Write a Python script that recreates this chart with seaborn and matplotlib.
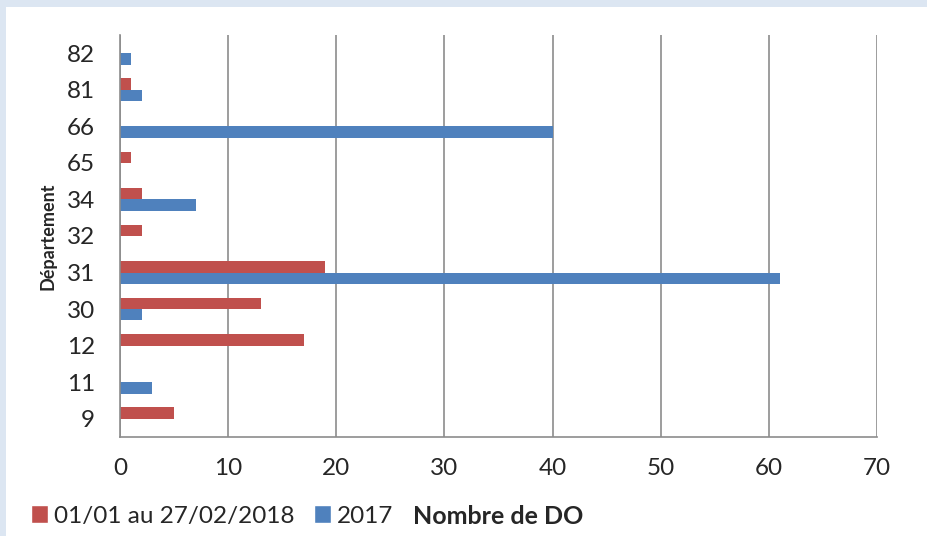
import pandas as pd
import matplotlib.pyplot as plt
from matplotlib.patches import Rectangle
import seaborn as sns

departements = ['82', '81', '66', '65', '34', '32', '31', '30', '12', '11', '9']
val_2018 = [0, 1, 0, 1, 2, 2, 19, 13, 17, 0, 5]
val_2017 = [1, 2, 40, 0, 7, 0, 61, 2, 0, 3, 0]
series = ['01/01 au 27/02/2018', '2017']
colors = ['#C0504D', '#4F81BD']
x_ticks = [0, 10, 20, 30, 40, 50, 60, 70]

df = pd.DataFrame({
    'Département': departements * 2,
    'Nombre': val_2018 + val_2017,
    'Série': [series[0]] * len(departements) + [series[1]] * len(departements),
})

sns.set_style('white')
plt.rcParams['font.family'] = ['Lato', 'DejaVu Sans']

fig = plt.figure(figsize=(9.28, 5.36), dpi=100, facecolor='#DCE6F2')
fig.patches.append(Rectangle((6 / 928, 0), 1, 529 / 536, transform=fig.transFigure,
                             facecolor='white', edgecolor='none', zorder=-1))
ax = fig.add_axes([120 / 928, 99 / 536, 757 / 928, 402 / 536])
ax.set_facecolor('white')

sns.barplot(data=df, x='Nombre', y='Département', hue='Série', order=departements,
            hue_order=series, palette=colors, orient='h', width=0.62,
            saturation=1, linewidth=0, ax=ax, legend=False)

ax.set_xlim(0, 70)
ax.set_ylim(len(departements) - 0.5, -0.5)
ax.set_xticks(x_ticks)
ax.xaxis.grid(True, color='#8C8C8C', linewidth=1.2)
ax.set_axisbelow(True)
ax.tick_params(axis='x', length=7, width=1.2, color='#8C8C8C', labelsize=17.5, pad=8)
ax.tick_params(axis='y', which='major', length=0, labelsize=17.5, pad=18)
ax.set_yticks([i - 0.5 for i in range(len(departements) + 1)], minor=True)
ax.tick_params(axis='y', which='minor', length=7, width=1.2, color='#8C8C8C')

for side in ['top', 'right']:
    ax.spines[side].set_visible(False)
for side in ['left', 'bottom']:
    ax.spines[side].set_color('#8C8C8C')
    ax.spines[side].set_linewidth(1.2)

ax.set_xlabel('Nombre de DO', fontsize=18, fontweight='bold', va='center')
ax.xaxis.set_label_coords(0.5, -0.198)
ax.set_ylabel('Département', fontsize=13, fontweight='bold', va='center')
ax.yaxis.set_label_coords(-0.095, 0.5)

handles = [Rectangle((0, 0), 1, 1, facecolor=c) for c in colors]
fig.legend(handles, series, loc='center left', bbox_to_anchor=(31 / 928, 20 / 536),
           ncol=2, frameon=False, fontsize=17.5, handlelength=0.7, handleheight=0.7,
           handletextpad=0.25, columnspacing=0.8, borderaxespad=0, borderpad=0)

fig.savefig('out.png', dpi=100, facecolor=fig.get_facecolor())
